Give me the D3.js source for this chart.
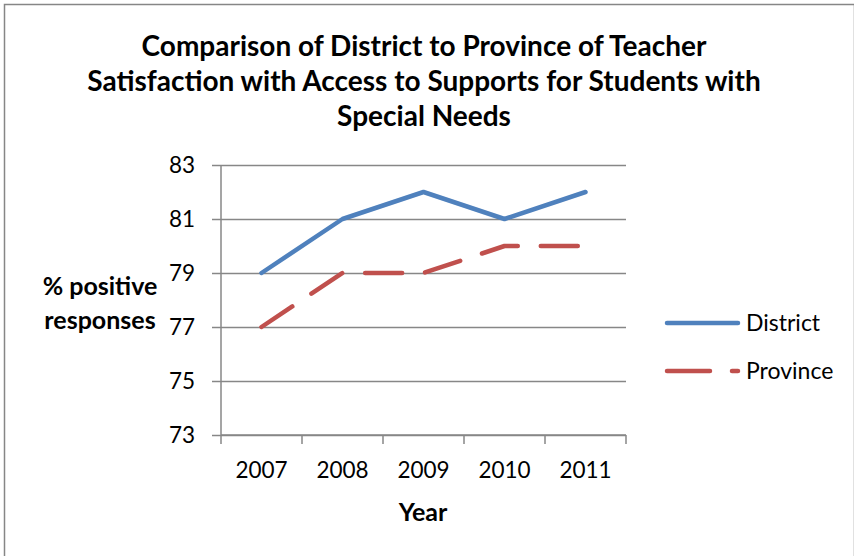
<!DOCTYPE html>
<html>
<head>
<meta charset="utf-8">
<script src="https://cdn.jsdelivr.net/npm/d3@7/dist/d3.min.js"></script>
<style>
  html, body { margin: 0; padding: 0; background: #fff; }
  svg { display: block; font-family: Lato, "Open Sans", sans-serif; }
</style>
</head>
<body>
<svg id="chart" width="854" height="556"></svg>
<script>
const years = ["2007", "2008", "2009", "2010", "2011"];
const district = [79, 81, 82, 81, 82];
const province = [77, 79, 79, 80, 80];
const yTicks = [73, 75, 77, 79, 81, 83];
const titleLines = [
  "Comparison of District to Province of Teacher",
  "Satisfaction with Access to Supports for Students with",
  "Special Needs"
];
const seriesNames = ["District", "Province"];
const colors = ["#4F81BD", "#C0504D"];

const svg = d3.select("#chart");

// outer frame
svg.append("rect")
  .attr("x", 4.5).attr("y", 4.5)
  .attr("width", 850).attr("height", 560)
  .attr("fill", "none").attr("stroke", "#868686").attr("stroke-width", 1.5);

const plot = { left: 221, right: 626, top: 165, bottom: 435 };

const x = d3.scaleBand().domain(years).range([plot.left, plot.right]).padding(0);
const y = d3.scaleLinear().domain([73, 83]).range([plot.bottom, plot.top]);

// horizontal gridlines with outside tick stubs
const yAxis = d3.axisLeft(y).tickValues(yTicks).tickSize(-(plot.right - plot.left)).tickSizeOuter(0).tickPadding(26);
const gy = svg.append("g").attr("transform", `translate(${plot.left},0)`).call(yAxis);
gy.select(".domain").remove();
gy.selectAll(".tick line")
  .attr("x1", -9)
  .attr("stroke", "#878787").attr("stroke-width", 1.5);
gy.selectAll(".tick text")
  .attr("font-size", 22.5).attr("fill", "#000")
  .attr("font-family", "Lato, 'Open Sans', sans-serif");

// vertical axis line
svg.append("line")
  .attr("x1", plot.left).attr("x2", plot.left)
  .attr("y1", plot.top).attr("y2", plot.bottom)
  .attr("stroke", "#878787").attr("stroke-width", 1.5);

// category axis: ticks at band boundaries
const gx = svg.append("g").attr("transform", `translate(0,${plot.bottom})`);
gx.append("line")
  .attr("x1", plot.left).attr("x2", plot.right)
  .attr("stroke", "#878787").attr("stroke-width", 1.5);
const bounds = years.map(d => x(d)).concat([x(years[years.length - 1]) + x.bandwidth()]);
gx.selectAll("line.tk").data(bounds).enter().append("line")
  .attr("class", "tk")
  .attr("x1", d => d).attr("x2", d => d)
  .attr("y1", 0).attr("y2", 9)
  .attr("stroke", "#878787").attr("stroke-width", 1.5);
gx.selectAll("text").data(years).enter().append("text")
  .attr("x", d => x(d) + x.bandwidth() / 2)
  .attr("y", 43)
  .attr("text-anchor", "middle")
  .attr("font-size", 22.5)
  .text(d => d);

// series lines
const line = d3.line()
  .x((d, i) => x(years[i]) + x.bandwidth() / 2)
  .y(d => y(d));

svg.append("path")
  .datum(district)
  .attr("d", line)
  .attr("fill", "none").attr("stroke", colors[0])
  .attr("stroke-width", 4.5).attr("stroke-linejoin", "round").attr("stroke-linecap", "round");

svg.append("path")
  .datum(province)
  .attr("d", line)
  .attr("fill", "none").attr("stroke", colors[1])
  .attr("stroke-width", 4.5).attr("stroke-linejoin", "round").attr("stroke-linecap", "round")
  .attr("stroke-dasharray", "37,23");

// title
svg.append("text")
  .attr("x", 424).attr("y", 56)
  .attr("text-anchor", "middle")
  .attr("font-size", 28).attr("font-weight", "bold")
  .selectAll("tspan").data(titleLines).enter().append("tspan")
  .attr("x", 424).attr("dy", (d, i) => i === 0 ? 0 : 35)
  .text(d => d);

// axis titles
svg.append("text")
  .attr("x", 423).attr("y", 521)
  .attr("text-anchor", "middle")
  .attr("font-size", 25).attr("font-weight", "bold")
  .text("Year");

svg.append("text")
  .attr("x", 100).attr("y", 295)
  .attr("text-anchor", "middle")
  .attr("font-size", 25).attr("font-weight", "bold")
  .selectAll("tspan").data(["% positive", "responses"]).enter().append("tspan")
  .attr("x", 100).attr("dy", (d, i) => i === 0 ? 0 : 34)
  .text(d => d);

// legend
const legend = svg.append("g").attr("transform", "translate(667,323)");
seriesNames.forEach((name, i) => {
  const g = legend.append("g").attr("transform", `translate(0,${i * 48})`);
  g.append("line")
    .attr("x1", 0).attr("x2", 71)
    .attr("stroke", colors[i]).attr("stroke-width", 4.5).attr("stroke-linecap", "round")
    .attr("stroke-dasharray", i === 1 ? "43,22" : null);
  g.append("text")
    .attr("x", 79).attr("y", 8)
    .attr("font-size", 23)
    .text(name);
});
</script>
</body>
</html>
